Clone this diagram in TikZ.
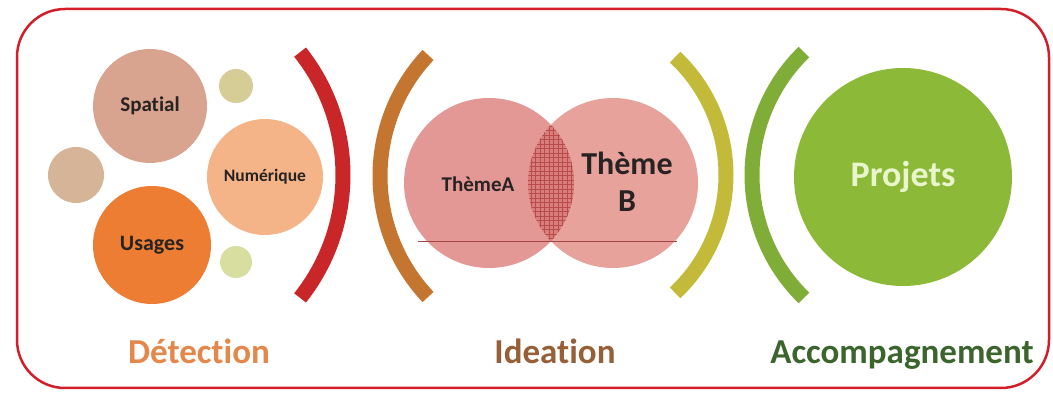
\documentclass[tikz,border=0pt]{standalone}
\usepackage{fontspec}
\setmainfont{Carlito}[Ligatures=NoCommon]
\definecolor{framec}{RGB}{210,30,40}
\definecolor{spatialc}{RGB}{216,163,143}
\definecolor{numc}{RGB}{245,180,135}
\definecolor{usagc}{RGB}{236,125,50}
\definecolor{smtr}{RGB}{214,204,150}
\definecolor{sml}{RGB}{214,180,152}
\definecolor{smbr}{RGB}{215,222,160}
\definecolor{redarc}{RGB}{200,38,40}
\definecolor{brarc}{RGB}{196,118,48}
\definecolor{yearc}{RGB}{196,186,58}
\definecolor{grarc}{RGB}{128,172,56}
\definecolor{vennA}{RGB}{228,152,150}
\definecolor{vennB}{RGB}{231,162,155}
\definecolor{vennI}{RGB}{216,126,124}
\definecolor{gridc}{RGB}{185,75,75}
\definecolor{projc}{RGB}{140,185,55}
\definecolor{projt}{RGB}{232,245,205}
\definecolor{detc}{RGB}{228,135,75}
\definecolor{idec}{RGB}{150,95,55}
\definecolor{accc}{RGB}{60,100,45}
\definecolor{txtc}{RGB}{40,35,35}
\tikzset{
  bubble/.style={circle, inner sep=0pt, draw=none, text=txtc, font=\bfseries},
  arcstroke/.style={line width=15pt, line cap=butt},
  phase/.style={font=\fontsize{35}{40}\selectfont\bfseries, anchor=base}
}
\begin{document}
\begin{tikzpicture}[x=1pt,y=-1pt]
\useasboundingbox (0,0) rectangle (1053,395);
% frame
\draw[framec, line width=2.5pt, rounded corners=48pt] (17,9) rectangle (1049,388);

% Detection bubbles
\node[bubble, fill=spatialc, minimum size=114pt, font=\fontsize{21}{24}\selectfont\bfseries] (spatial) at (150,106) {Spatial};
\node[bubble, fill=smtr, minimum size=34pt] (smalltr) at (236,86) {};
\node[bubble, fill=sml, minimum size=56pt] (smalll) at (76,175) {};
\node[bubble, fill=numc, minimum size=116pt, font=\fontsize{17.5}{20}\selectfont\bfseries] (num) at (265,177) {Numérique};
\node[bubble, fill=usagc, minimum size=118pt, font=\fontsize{22}{25}\selectfont\bfseries] (usages) at (152,245) {Usages};
\node[bubble, fill=smbr, minimum size=32pt] (smallbr) at (236,262) {};

% arcs
\draw[redarc, arcstroke] (145.6,175) ++(-38.5:197.4) arc[start angle=-38.5, end angle=38.5, radius=197.4];
\draw[brarc, arcstroke] (556.5,176) ++(223.3:176.5) arc[start angle=223.3, end angle=136.7, radius=176.5];
\draw[yearc, arcstroke] (564,175) ++(-46.7:162) arc[start angle=-46.7, end angle=46.7, radius=162];
\draw[grarc, arcstroke] (923.5,175) ++(225.8:171.5) arc[start angle=225.8, end angle=134.2, radius=171.5];

% Venn
\node[bubble, fill=vennA, minimum size=170pt] (themeA) at (489,183) {};
\node[bubble, fill=vennB, minimum size=170pt] (themeB) at (613,183) {};
\begin{scope}
  \clip (489,183) circle[radius=85];
  \clip (613,183) circle[radius=85];
  \fill[vennI] (520,90) rectangle (585,275);
  \draw[gridc, line width=0.35pt, step=4.5pt] (520,90) grid (585,275);
\end{scope}
\coordinate (chordL) at (418,241);
\coordinate (chordR) at (677,241);
\draw[gridc!90!black, line width=0.8pt] (chordL) -- (chordR);
\node[text=txtc, font=\fontsize{21}{24}\selectfont\bfseries] (labA) at (478,184) {ThèmeA};
\node[text=txtc, font=\fontsize{32}{37}\selectfont\bfseries, align=center] (labB) at (627,182) {Thème\\B};

% Projets
\node[bubble, fill=projc, minimum size=218pt, text=projt, font=\fontsize{36}{40}\selectfont\bfseries] (proj) at (903,177) {Projets};

% phase labels
\node[phase, text=detc] (det) at (199,364) {Détection};
\node[phase, text=idec] (ide) at (555,364) {Ideation};
\node[phase, text=accc] (acc) at (902,364) {Accompagnement};
\end{tikzpicture}
\end{document}
